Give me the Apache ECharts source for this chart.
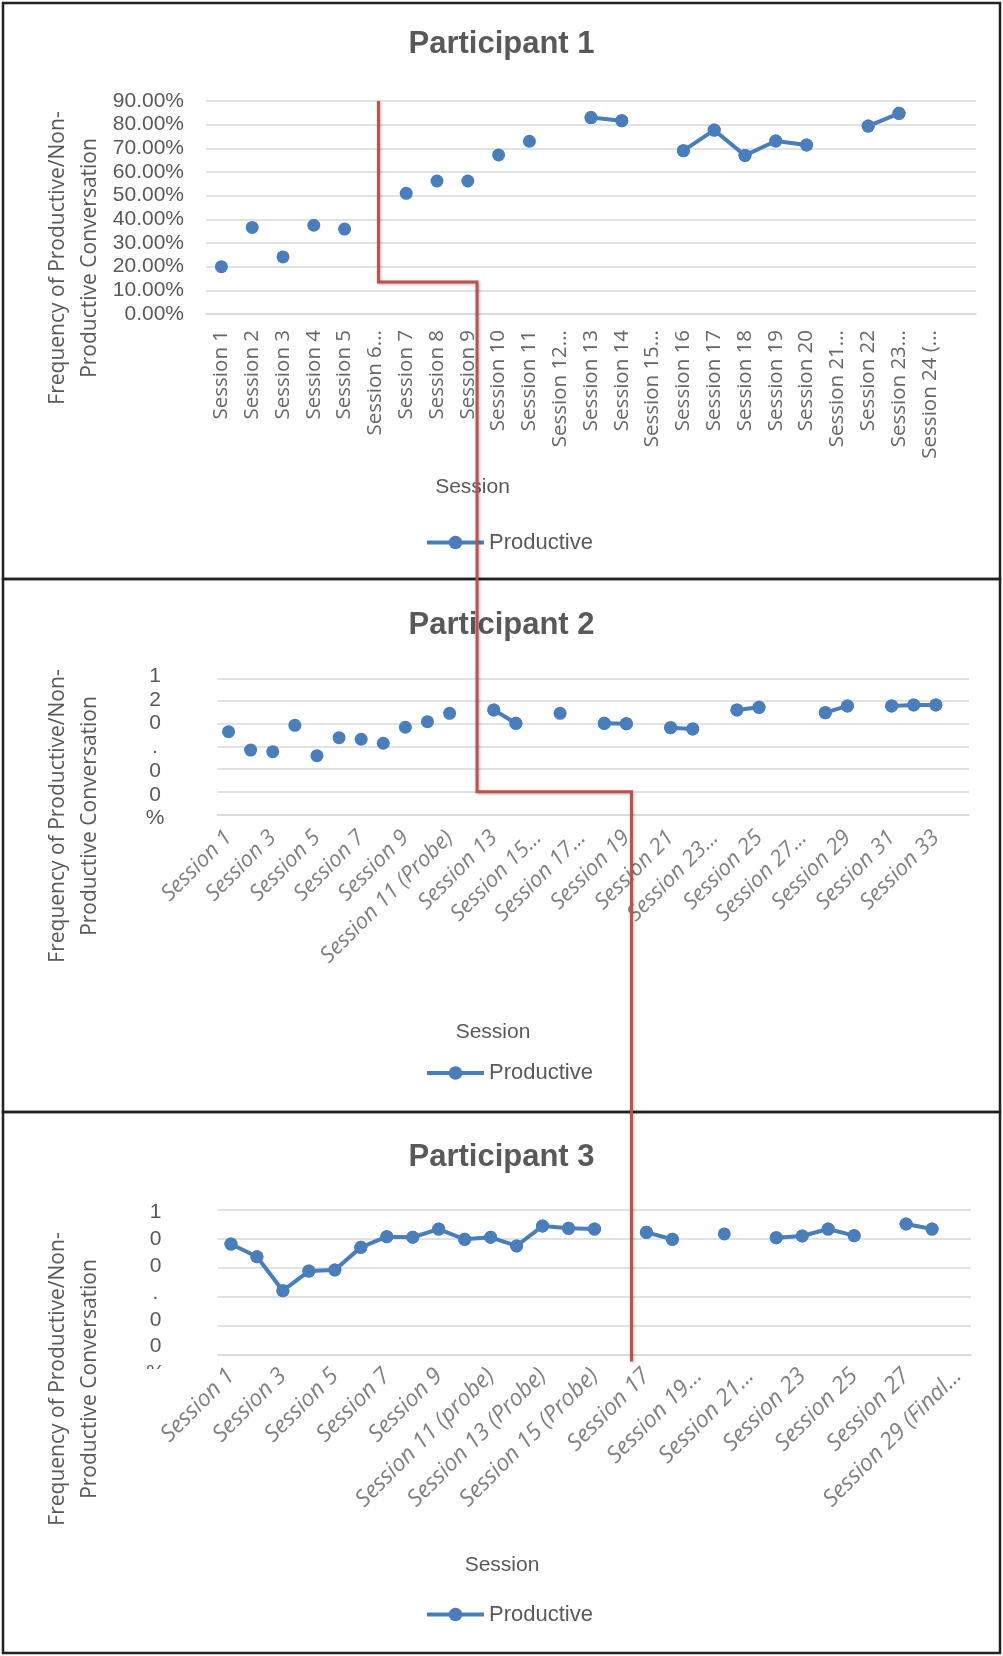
<!DOCTYPE html>
<html>
<head>
<meta charset="utf-8">
<script src="https://cdn.jsdelivr.net/npm/echarts@6/dist/echarts.min.js"></script>
<style>
  html, body { margin: 0; padding: 0; background: #ffffff; }
  #chart { width: 1003px; height: 1656px; }
</style>
</head>
<body>
<div id="chart"></div>
<script>
// ---- Participant 1 -------------------------------------------------------
const p1Sessions = ['Session 1', 'Session 2', 'Session 3', 'Session 4', 'Session 5', 'Session 6...',
  'Session 7', 'Session 8', 'Session 9', 'Session 10', 'Session 11', 'Session 12...', 'Session 13',
  'Session 14', 'Session 15...', 'Session 16', 'Session 17', 'Session 18', 'Session 19', 'Session 20',
  'Session 21...', 'Session 22', 'Session 23...', 'Session 24 (...', ''];
const p1Productive = [20.0, 36.6, 24.1, 37.5, 35.9, null, 51.0, 56.2, 56.2, 67.2, 73.0, null, 83.0,
  81.7, null, 69.0, 77.7, 67.0, 73.1, 71.4, null, 79.4, 84.8, null, null];
// consecutive sessions that are joined by a line (first index, last index)
const p1Runs = [[12, 13], [15, 19], [21, 22]];
const p1Ticks = [0, 90, 10];

// ---- Participant 2 -------------------------------------------------------
const p2Sessions = ['Session 1', 'Session 2', 'Session 3', 'Session 4', 'Session 5', 'Session 6',
  'Session 7', 'Session 8', 'Session 9', 'Session 10', 'Session 11 (Probe)', 'Session 12', 'Session 13',
  'Session 14', 'Session 15...', 'Session 16', 'Session 17...', 'Session 18', 'Session 19', 'Session 20',
  'Session 21', 'Session 22', 'Session 23...', 'Session 24', 'Session 25', 'Session 26', 'Session 27...',
  'Session 28', 'Session 29', 'Session 30', 'Session 31', 'Session 32', 'Session 33', ''];
const p2Productive = [72.9, 56.7, 55.3, 78.5, 51.7, 67.6, 66.2, 62.7, 76.8, 81.7, 89.1, null, 92.1,
  80.3, null, 89.1, null, 80.3, 80.0, null, 76.4, 75.3, null, 92.1, 94.4, null, null, 89.7, 95.6, null,
  95.6, 96.5, 96.5, null];
const p2Runs = [[12, 13], [17, 18], [20, 21], [23, 24], [27, 28], [30, 32]];
const p2Ticks = [0, 120, 20];
const p2AxisText = '120.00%';

// ---- Participant 3 -------------------------------------------------------
const p3Sessions = ['Session 1', 'Session 2', 'Session 3', 'Session 4', 'Session 5', 'Session 6',
  'Session 7', 'Session 8', 'Session 9', 'Session 10', 'Session 11 (probe)', 'Session 12',
  'Session 13 (Probe)', 'Session 14', 'Session 15 (Probe)', 'Session 16', 'Session 17', 'Session 18',
  'Session 19...', 'Session 20', 'Session 21...', 'Session 22', 'Session 23', 'Session 24', 'Session 25',
  'Session 26', 'Session 27', 'Session 28', 'Session 29 (Final...'];
const p3Productive = [76.4, 67.6, 44.1, 57.7, 58.4, 74.1, 81.5, 81.1, 86.8, 79.7, 81.1, 75.1, 88.9,
  87.3, 86.8, null, 84.5, 79.7, null, 83.4, null, 80.8, 82.0, 86.8, 82.2, null, 90.3, 86.8, null];
const p3Runs = [[0, 14], [16, 17], [21, 24], [26, 27]];
const p3Ticks = [0, 100, 20];
const p3AxisText = '100.00%';

// ---- Phase-change line (category position / value in each panel) --------
const phaseP1 = { start: 5.1, top: 90, step: 13.5, cross: 8.3 };
const phaseP2 = { step: 20, cross: 18.23 };
const phaseP3 = { end: -5 };

const yTitle = 'Frequency of Productive/Non-\nProductive Conversation';
const seriesName = 'Productive';

// ---- styling -------------------------------------------------------------
const BLUE = '#4a7ebb';
const RED = '#c0504d';
const GRID_LINE = '#d9d9d9';
const TEXT = '#595959';
const SANS = 'Liberation Sans, Arial, sans-serif';
const HUMAN = 'Open Sans, DejaVu Sans, sans-serif';

function runData(values, runs) {
  const out = values.map(() => null);
  runs.forEach(([a, b]) => { for (let i = a; i <= b; i++) out[i] = values[i]; });
  return out;
}

const panels = [
  { cats: p1Sessions, vals: p1Productive, runs: p1Runs, ticks: p1Ticks,
    grid: { left: 206, right: 27, top: 101, bottom: 1342 },
    label: { rotate: 90, fontSize: 20.5, italic: false, margin: 16, color: '#666666', interval: 0 },
    title: 'Participant 1', titleTop: 28.5, legendMid: 542.5 },
  { cats: p2Sessions, vals: p2Productive, runs: p2Runs, ticks: p2Ticks,
    grid: { left: 217.5, right: 34, top: 678.3, bottom: 841.7 },
    label: { rotate: 45, fontSize: 22, italic: true, margin: 20, color: '#808080', interval: 1 },
    title: 'Participant 2', titleTop: 609.5, legendMid: 1073 },
  { cats: p3Sessions, vals: p3Productive, runs: p3Runs, ticks: p3Ticks,
    grid: { left: 218, right: 32, top: 1210, bottom: 301.7 },
    label: { rotate: 45, fontSize: 23, italic: true, margin: 18, color: '#808080', interval: 1 },
    title: 'Participant 3', titleTop: 1142, legendMid: 1614.5 }
];

const option = {
  animation: false,
  backgroundColor: '#ffffff',
  title: panels.map(p => ({
    text: p.title, left: 'center', top: p.titleTop, padding: 0,
    textStyle: { fontFamily: SANS, fontWeight: 'bold', fontSize: 31, color: TEXT }
  })),
  legend: panels.map(p => ({
    data: [seriesName], left: 425, top: p.legendMid - 11, padding: 0,
    itemWidth: 57, itemHeight: 17, itemGap: 0,
    lineStyle: { width: 4, color: BLUE },
    textStyle: { fontFamily: SANS, fontSize: 22, color: TEXT },
    selectedMode: false
  })),
  grid: panels.map(p => Object.assign({ containLabel: false, outerBoundsMode: 'none' }, p.grid)),
  xAxis: panels.map((p, i) => ({
    type: 'category', gridIndex: i, data: p.cats, boundaryGap: true,
    axisTick: { show: false },
    axisLine: { show: true, lineStyle: { color: GRID_LINE, width: 1.5 } },
    axisLabel: {
      rotate: p.label.rotate, interval: p.label.interval, margin: p.label.margin,
      fontFamily: HUMAN, fontSize: p.label.fontSize, color: p.label.color,
      fontStyle: p.label.italic ? 'italic' : 'normal'
    }
  })),
  yAxis: panels.map((p, i) => ({
    type: 'value', gridIndex: i, min: p.ticks[0], max: p.ticks[1], interval: p.ticks[2],
    axisLine: { show: false }, axisTick: { show: false },
    splitLine: { lineStyle: { color: GRID_LINE, width: 1.5 } },
    axisLabel: {
      show: i === 0, margin: 22, fontFamily: SANS, fontSize: 21, color: TEXT,
      formatter: v => v.toFixed(2) + '%'
    }
  })),
  series: panels.flatMap((p, i) => [
    { // joined sessions
      name: seriesName, type: 'line', xAxisIndex: i, yAxisIndex: i,
      data: runData(p.vals, p.runs), connectNulls: false,
      symbol: 'circle', symbolSize: 13, showSymbol: true,
      lineStyle: { color: BLUE, width: 4 }, itemStyle: { color: BLUE }, z: 3
    },
    { // every session as a marker
      name: seriesName, type: 'line', xAxisIndex: i, yAxisIndex: i,
      data: p.vals, connectNulls: false,
      symbol: 'circle', symbolSize: 13, showSymbol: true,
      lineStyle: { width: 0, opacity: 0 }, itemStyle: { color: BLUE }, z: 4
    }
  ])
};

const chart = echarts.init(document.getElementById('chart'), null, { renderer: 'canvas' });
chart.setOption(option);

// pixel helpers on the library's own scales
function catX(axis, c) {
  const f = Math.floor(c);
  const a = chart.convertToPixel({ xAxisIndex: axis }, f);
  const b = chart.convertToPixel({ xAxisIndex: axis }, f + 1);
  return a + (c - f) * (b - a);
}
function valY(axis, v) { return chart.convertToPixel({ yAxisIndex: axis }, v); }

function textEl(x, y, text, font, opts) {
  opts = opts || {};
  return {
    type: 'text', x: x, y: y, rotation: opts.rotation || 0, z: opts.z || 50,
    style: {
      text: text, font: font, fill: opts.fill || TEXT,
      align: opts.align || 'center', verticalAlign: opts.valign || 'middle',
      textAlign: opts.align || 'center', textVerticalAlign: opts.valign || 'middle',
      lineHeight: opts.lineHeight
    }
  };
}

const x1 = catX(0, phaseP1.start);
const yTop = valY(0, phaseP1.top);
const yStep1 = valY(0, phaseP1.step);
const x2 = catX(0, phaseP1.cross);
const yStep2 = valY(1, phaseP2.step);
const x3 = catX(1, phaseP2.cross);
const yEnd = valY(2, phaseP3.end);

const stacked = (s) => s.split('').join('\n');
const p2LabelTop = valY(1, p2Ticks[1]);
const p3LabelTop = valY(2, p3Ticks[1]);

const elements = [
  // panel frames
  { type: 'rect', shape: { x: 3, y: 3, width: 997, height: 576 }, style: { fill: 'none', stroke: '#222', lineWidth: 2.5 }, z: 60 },
  { type: 'rect', shape: { x: 3, y: 579, width: 997, height: 533 }, style: { fill: 'none', stroke: '#222', lineWidth: 2.5 }, z: 60 },
  { type: 'rect', shape: { x: 3, y: 1112, width: 997, height: 541 }, style: { fill: 'none', stroke: '#222', lineWidth: 2.5 }, z: 60 },
  // vertical axis titles
  textEl(74, 258, yTitle, '21px ' + HUMAN, { rotation: Math.PI / 2, lineHeight: 32 }),
  textEl(74, 816, yTitle, '21px ' + HUMAN, { rotation: Math.PI / 2, lineHeight: 32 }),
  textEl(74, 1379, yTitle, '21px ' + HUMAN, { rotation: Math.PI / 2, lineHeight: 32 }),
  // horizontal axis titles
  textEl(472.5, 487.5, 'Session', '21px ' + SANS),
  textEl(493, 1032.5, 'Session', '21px ' + SANS),
  textEl(502, 1565, 'Session', '21px ' + SANS),
  // top tick labels of panels 2 and 3, one character per line
  textEl(155, p2LabelTop - 2 - 11.85, stacked(p2AxisText), '21px ' + SANS, { valign: 'top', lineHeight: 23.7 }),
  textEl(155.5, p3LabelTop + 2.7 - 13.4, stacked(p3AxisText), '21px ' + SANS, { valign: 'top', lineHeight: 26.8 }),
  { type: 'rect', shape: { x: 140, y: 1369, width: 34, height: 20 }, style: { fill: '#ffffff' }, z: 55 },
  // phase-change line
  {
    type: 'polyline', z: 100,
    shape: { points: [[x1, yTop], [x1, yStep1], [x2, yStep1], [x2, yStep2], [x3, yStep2], [x3, yEnd]] },
    style: { stroke: RED, lineWidth: 3, fill: null, lineJoin: 'miter',
      shadowBlur: 3, shadowColor: 'rgba(0,0,0,0.3)', shadowOffsetX: 1, shadowOffsetY: 1 }
  }
];

chart.setOption({ graphic: { elements: elements } });
</script>
</body>
</html>
